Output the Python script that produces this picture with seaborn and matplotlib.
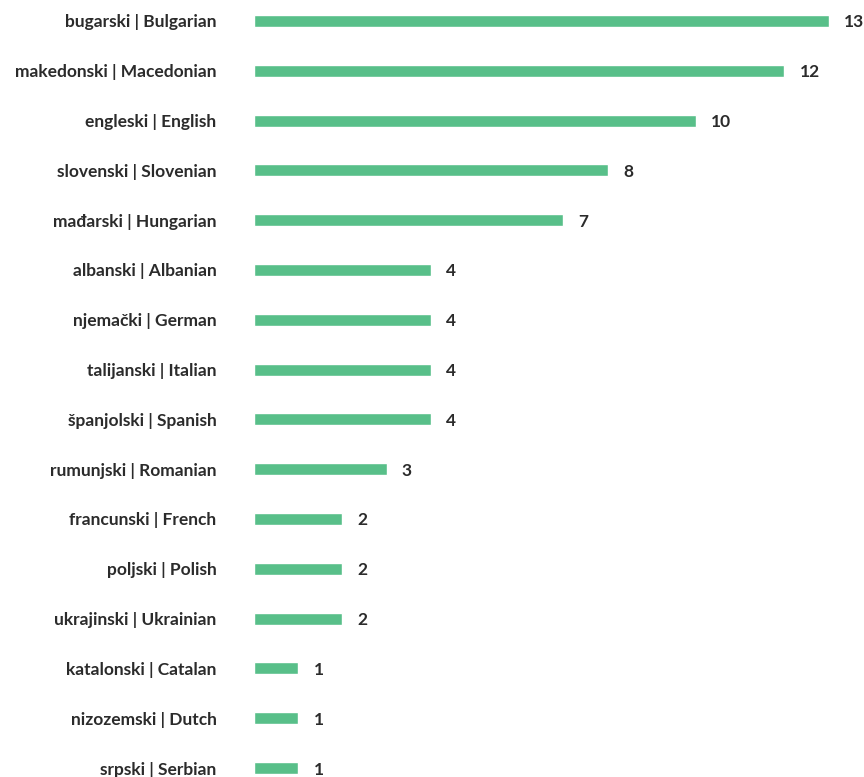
import matplotlib
matplotlib.use("Agg")
import matplotlib.pyplot as plt
import seaborn as sns
import pandas as pd

languages = ["bugarski | Bulgarian", "makedonski | Macedonian", "engleski | English",
             "slovenski | Slovenian", "mađarski | Hungarian", "albanski | Albanian",
             "njemački | German", "talijanski | Italian", "španjolski | Spanish",
             "rumunjski | Romanian", "francunski | French", "poljski | Polish",
             "ukrajinski | Ukrainian", "katalonski | Catalan", "nizozemski | Dutch",
             "srpski | Serbian"]
counts = [13, 12, 10, 8, 7, 4, 4, 4, 4, 3, 2, 2, 2, 1, 1, 1]

df = pd.DataFrame({"language": languages, "count": counts})

sns.set_theme(style="white")
plt.rcParams['font.family'] = ['Lato', 'DejaVu Sans']

fig = plt.figure(figsize=(8.64, 7.77), dpi=100)
ax = fig.add_axes([254/864, 0, (864-254)/864, 1])
sns.barplot(data=df, x="count", y="language", color="#58BF89", width=0.24,
            saturation=1, ax=ax, orient="h")

ax.set_xlim(0, (864-254)/44.2)
ax.set_ylim(15.18, -0.42)
ax.set_xlabel("")
ax.set_ylabel("")
ax.set_xticks([])
for s in ax.spines.values():
    s.set_visible(False)
ax.tick_params(axis="y", length=0, pad=27)
for lbl in ax.get_yticklabels():
    lbl.set_fontsize(12.5)
    lbl.set_fontweight("bold")
    lbl.set_color("#2b2b2b")

for i, v in enumerate(counts):
    ax.annotate(str(v), (v, i), xytext=(11, 0), textcoords="offset points",
                va="center_baseline", ha="left", fontsize=12.5, fontweight="bold",
                color="#2b2b2b")

fig.savefig("out.png", dpi=100)
